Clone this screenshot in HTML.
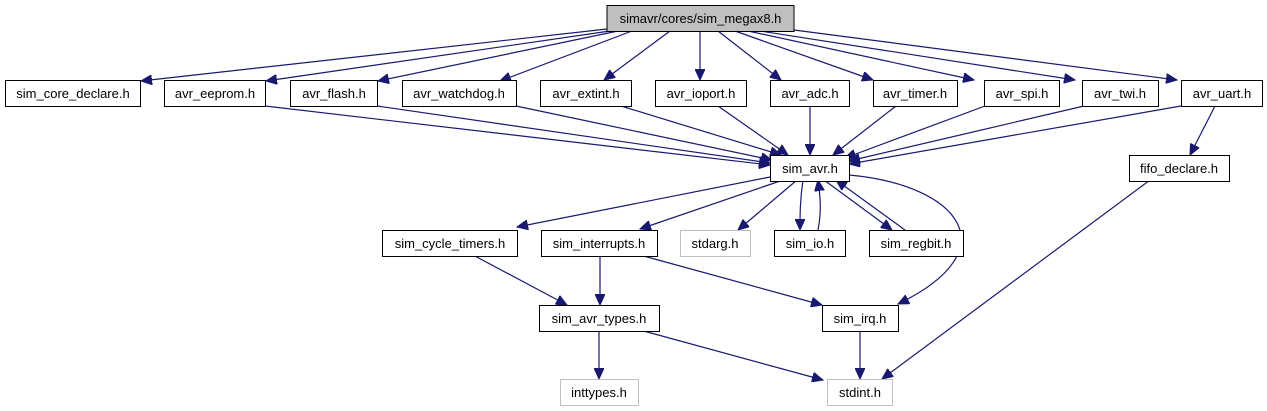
<!DOCTYPE html>
<html><head><meta charset="utf-8"><style>
html,body{margin:0;padding:0;background:#fff;}
svg{display:block}
text{font-family:"Liberation Sans",sans-serif;font-size:13px;fill:#000}
.n rect{fill:#fff;stroke:#000;stroke-width:1}
.g rect{fill:#fff;stroke:#bfbfbf;stroke-width:1}
.e{stroke:#191970;stroke-width:1.2;fill:none;marker-end:url(#a)}
</style></head><body>
<svg width="1267" height="411" viewBox="0 0 1267 411" xmlns="http://www.w3.org/2000/svg">
<defs><marker id="a" markerWidth="12" markerHeight="10" refX="11" refY="5" orient="auto" markerUnits="userSpaceOnUse"><path d="M0,0 L11,5 L0,10 z" fill="#191970" stroke="#191970"/></marker></defs>
<g>
<path class="e" d="M607,29 L141,81"/>
<path class="e" d="M610,31 L266,81"/>
<path class="e" d="M618,31 L378,81"/>
<path class="e" d="M632,31 L500,81"/>
<path class="e" d="M670,31 L604,80"/>
<path class="e" d="M700,31 L700,80"/>
<path class="e" d="M718,31 L781,80"/>
<path class="e" d="M735,31 L873,80"/>
<path class="e" d="M748,31 L974,80"/>
<path class="e" d="M760,31 L1075,80"/>
<path class="e" d="M794,30 L1177,80"/>
<path class="e" d="M265,106 L770,165"/>
<path class="e" d="M377,106 L770,163"/>
<path class="e" d="M516,106 L772,160"/>
<path class="e" d="M621,106 L781,155"/>
<path class="e" d="M718,106 L788,155"/>
<path class="e" d="M810,106 L810,155"/>
<path class="e" d="M896,106 L833,155"/>
<path class="e" d="M985,106 L845,158"/>
<path class="e" d="M1084,106 L849,161"/>
<path class="e" d="M1181,106 L849,164"/>
<path class="e" d="M1215,106 L1190,155"/>
<path class="e" d="M770,177 L517,227"/>
<path class="e" d="M783,180 L640,229"/>
<path class="e" d="M797,180 L738,230"/>
<path class="e" d="M803,180 C800,200 800,215 800,230"/>
<path class="e" d="M818,230 C822,210 820,195 818,180"/>
<path class="e" d="M824,180 L892,230"/>
<path class="e" d="M905,230 L836,180"/>
<path class="e" d="M849,175 C960,185 1010,250 898,304"/>
<path class="e" d="M473,255 L567,305"/>
<path class="e" d="M600,255 L600,305"/>
<path class="e" d="M640,255 L822,305"/>
<path class="e" d="M599,330 L599,379"/>
<path class="e" d="M640,330 L823,380"/>
<path class="e" d="M860,330 L860,379"/>
<path class="e" d="M1150,180 L882,379"/>
</g>
<g class="n"><rect x="607" y="5.5" width="187" height="26" style="fill:#bfbfbf"/><text x="700.5" y="23" text-anchor="middle">simavr/cores/sim_megax8.h</text></g>
<g class="n"><rect x="5.5" y="80.5" width="135" height="26"/><text x="73" y="98" text-anchor="middle">sim_core_declare.h</text></g>
<g class="n"><rect x="164.5" y="80.5" width="101" height="26"/><text x="215" y="98" text-anchor="middle">avr_eeprom.h</text></g>
<g class="n"><rect x="290.5" y="80.5" width="87" height="26"/><text x="334" y="98" text-anchor="middle">avr_flash.h</text></g>
<g class="n"><rect x="402.5" y="80.5" width="114" height="26"/><text x="459" y="98" text-anchor="middle">avr_watchdog.h</text></g>
<g class="n"><rect x="540.5" y="80.5" width="91" height="26"/><text x="586" y="98" text-anchor="middle">avr_extint.h</text></g>
<g class="n"><rect x="655.5" y="80.5" width="91" height="26"/><text x="701" y="98" text-anchor="middle">avr_ioport.h</text></g>
<g class="n"><rect x="770.5" y="80.5" width="79" height="26"/><text x="810" y="98" text-anchor="middle">avr_adc.h</text></g>
<g class="n"><rect x="873.5" y="80.5" width="84" height="26"/><text x="915" y="98" text-anchor="middle">avr_timer.h</text></g>
<g class="n"><rect x="984.5" y="80.5" width="75" height="26"/><text x="1022" y="98" text-anchor="middle">avr_spi.h</text></g>
<g class="n"><rect x="1082.5" y="80.5" width="76" height="26"/><text x="1120" y="98" text-anchor="middle">avr_twi.h</text></g>
<g class="n"><rect x="1181.5" y="80.5" width="81" height="26"/><text x="1222" y="98" text-anchor="middle">avr_uart.h</text></g>
<g class="n"><rect x="770.5" y="155.5" width="79" height="26"/><text x="810" y="173" text-anchor="middle">sim_avr.h</text></g>
<g class="n"><rect x="1129.5" y="155.5" width="100" height="26"/><text x="1179" y="173" text-anchor="middle">fifo_declare.h</text></g>
<g class="n"><rect x="382.5" y="230.5" width="135" height="26"/><text x="450" y="248" text-anchor="middle">sim_cycle_timers.h</text></g>
<g class="n"><rect x="541.5" y="230.5" width="116" height="26"/><text x="599" y="248" text-anchor="middle">sim_interrupts.h</text></g>
<g class="g"><rect x="680.5" y="230.5" width="70" height="26"/><text x="715" y="248" text-anchor="middle">stdarg.h</text></g>
<g class="n"><rect x="774.5" y="230.5" width="71" height="26"/><text x="810" y="248" text-anchor="middle">sim_io.h</text></g>
<g class="n"><rect x="869.5" y="230.5" width="94" height="26"/><text x="916" y="248" text-anchor="middle">sim_regbit.h</text></g>
<g class="n"><rect x="539.5" y="305.5" width="120" height="26"/><text x="599" y="323" text-anchor="middle">sim_avr_types.h</text></g>
<g class="n"><rect x="822.5" y="305.5" width="76" height="26"/><text x="860" y="323" text-anchor="middle">sim_irq.h</text></g>
<g class="g"><rect x="560.5" y="379.5" width="78" height="26"/><text x="599" y="397" text-anchor="middle">inttypes.h</text></g>
<g class="g"><rect x="827.5" y="379.5" width="65" height="26"/><text x="860" y="397" text-anchor="middle">stdint.h</text></g>
</svg>
</body></html>
